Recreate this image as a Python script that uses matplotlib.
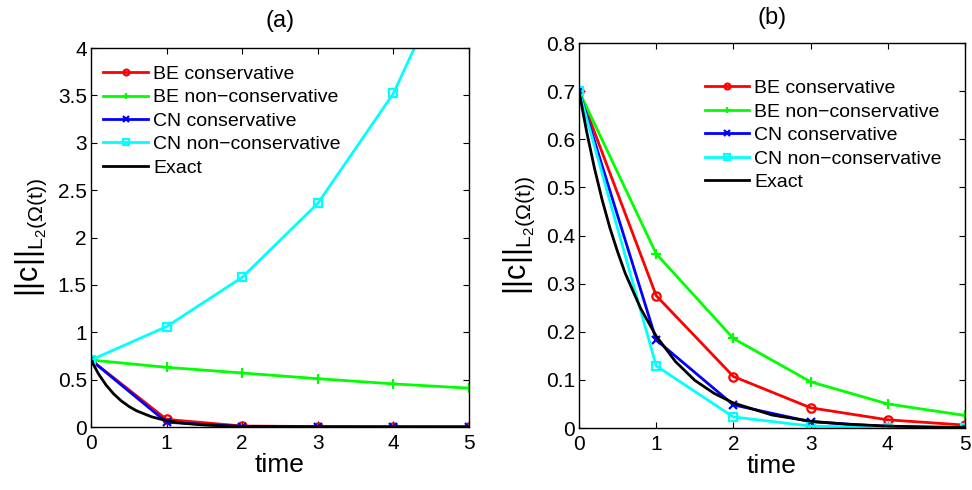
import numpy as np
import matplotlib
matplotlib.use('Agg')
import matplotlib.pyplot as plt

plt.rcParams['font.family'] = ['Liberation Sans', 'DejaVu Sans']
plt.rcParams['mathtext.fontset'] = 'custom'
plt.rcParams['mathtext.rm'] = 'Liberation Sans'
plt.rcParams['mathtext.it'] = 'Liberation Sans'

t = [0, 1, 2, 3, 4, 5]
t_exact = [0, 0.1, 0.2, 0.3, 0.4, 0.5, 0.6, 0.8, 1, 1.25, 1.5, 1.75, 2, 2.5, 3, 3.5, 4, 4.5, 5]

# panel (a)
a_be_cons = [0.707, 0.08, 0.01, 0.005, 0.003, 0.002]
a_be_noncons = [0.707, 0.63, 0.57, 0.51, 0.455, 0.41]
a_cn_cons = [0.707, 0.05, 0.004, 0.001, 0.0005, 0.0003]
a_cn_noncons = [0.707, 1.06, 1.58, 2.36, 3.52, 5.25]
a_exact = [0.707, 0.559, 0.442, 0.349, 0.276, 0.218, 0.172, 0.108, 0.067, 0.037,
           0.021, 0.012, 0.0064, 0.002, 0.0006, 0.0002, 0.0001, 0.0, 0.0]

# panel (b)
b_be_cons = [0.70, 0.275, 0.107, 0.042, 0.017, 0.006]
b_be_noncons = [0.70, 0.362, 0.186, 0.096, 0.050, 0.026]
b_cn_cons = [0.70, 0.183, 0.048, 0.013, 0.003, 0.001]
b_cn_noncons = [0.70, 0.129, 0.023, 0.004, 0.001, 0.0003]
b_exact = [0.70, 0.615, 0.540, 0.474, 0.416, 0.366, 0.321, 0.248, 0.191, 0.138,
           0.099, 0.072, 0.052, 0.027, 0.014, 0.0075, 0.004, 0.002, 0.001]

labels = ['BE conservative', 'BE non\u2212conservative', 'CN conservative',
          'CN non\u2212conservative', 'Exact']

fig = plt.figure(figsize=(9.72, 4.9), dpi=100)
ax1 = fig.add_axes([91/972, 1 - 427/490, (469 - 91)/972, (427 - 48)/490])
ax2 = fig.add_axes([579/972, 1 - 428/490, (965 - 579)/972, (428 - 43)/490])

def draw(ax, be_c, be_n, cn_c, cn_n, ex):
    lw = 2
    ax.plot(t, be_c, color='#ff0000', marker='o', mfc='none', ms=6, mew=1.6, lw=lw, label=labels[0])
    ax.plot(t, be_n, color='#00ff00', marker='+', ms=7, mew=1.6, lw=lw, label=labels[1])
    ax.plot(t, cn_c, color='#0000ff', marker='x', ms=5.5, mew=1.6, lw=lw, label=labels[2])
    ax.plot(t, cn_n, color='#00ffff', marker='s', mfc='none', ms=5.5, mew=1.6, lw=lw, label=labels[3])
    ax.plot(t_exact, ex, color='black', lw=lw, label=labels[4])
    ax.set_xlim(0, 5)
    ax.set_xticks(t)
    ax.set_xlabel('time', fontsize=19, labelpad=0)
    ax.set_ylabel(r'$||c||_{L_2(\Omega(t))}$', fontsize=22, labelpad=6)
    ax.tick_params(direction='in', labelsize=15, length=4, top=True, right=True)
    ax.tick_params(axis='x', pad=5)
    ax.tick_params(axis='y', pad=3)
    for s in ax.spines.values():
        s.set_linewidth(1.0)

leg_kw = dict(frameon=False, fontsize=14, handlelength=2.3, handletextpad=0.25,
              labelspacing=0.3, markerscale=0.7, loc='upper left')

draw(ax1, a_be_cons, a_be_noncons, a_cn_cons, a_cn_noncons, a_exact)
ax1.set_ylim(0, 4)
ax1.set_yticks([0, 0.5, 1, 1.5, 2, 2.5, 3, 3.5, 4])
ax1.set_yticklabels(['0', '0.5', '1', '1.5', '2', '2.5', '3', '3.5', '4'])
ax1.set_title('(a)', fontsize=17, pad=15)
ax1.legend(borderaxespad=0.0, bbox_to_anchor=(0.012, 0.975), **leg_kw)

draw(ax2, b_be_cons, b_be_noncons, b_cn_cons, b_cn_noncons, b_exact)
ax2.set_ylim(0, 0.8)
ax2.set_yticks([0, 0.1, 0.2, 0.3, 0.4, 0.5, 0.6, 0.7, 0.8])
ax2.set_yticklabels(['0', '0.1', '0.2', '0.3', '0.4', '0.5', '0.6', '0.7', '0.8'])
ax2.set_title('(b)', fontsize=17, pad=14)
ax2.legend(borderaxespad=0.0, bbox_to_anchor=(0.305, 0.925), **leg_kw)

fig.savefig('out.png', dpi=100)
